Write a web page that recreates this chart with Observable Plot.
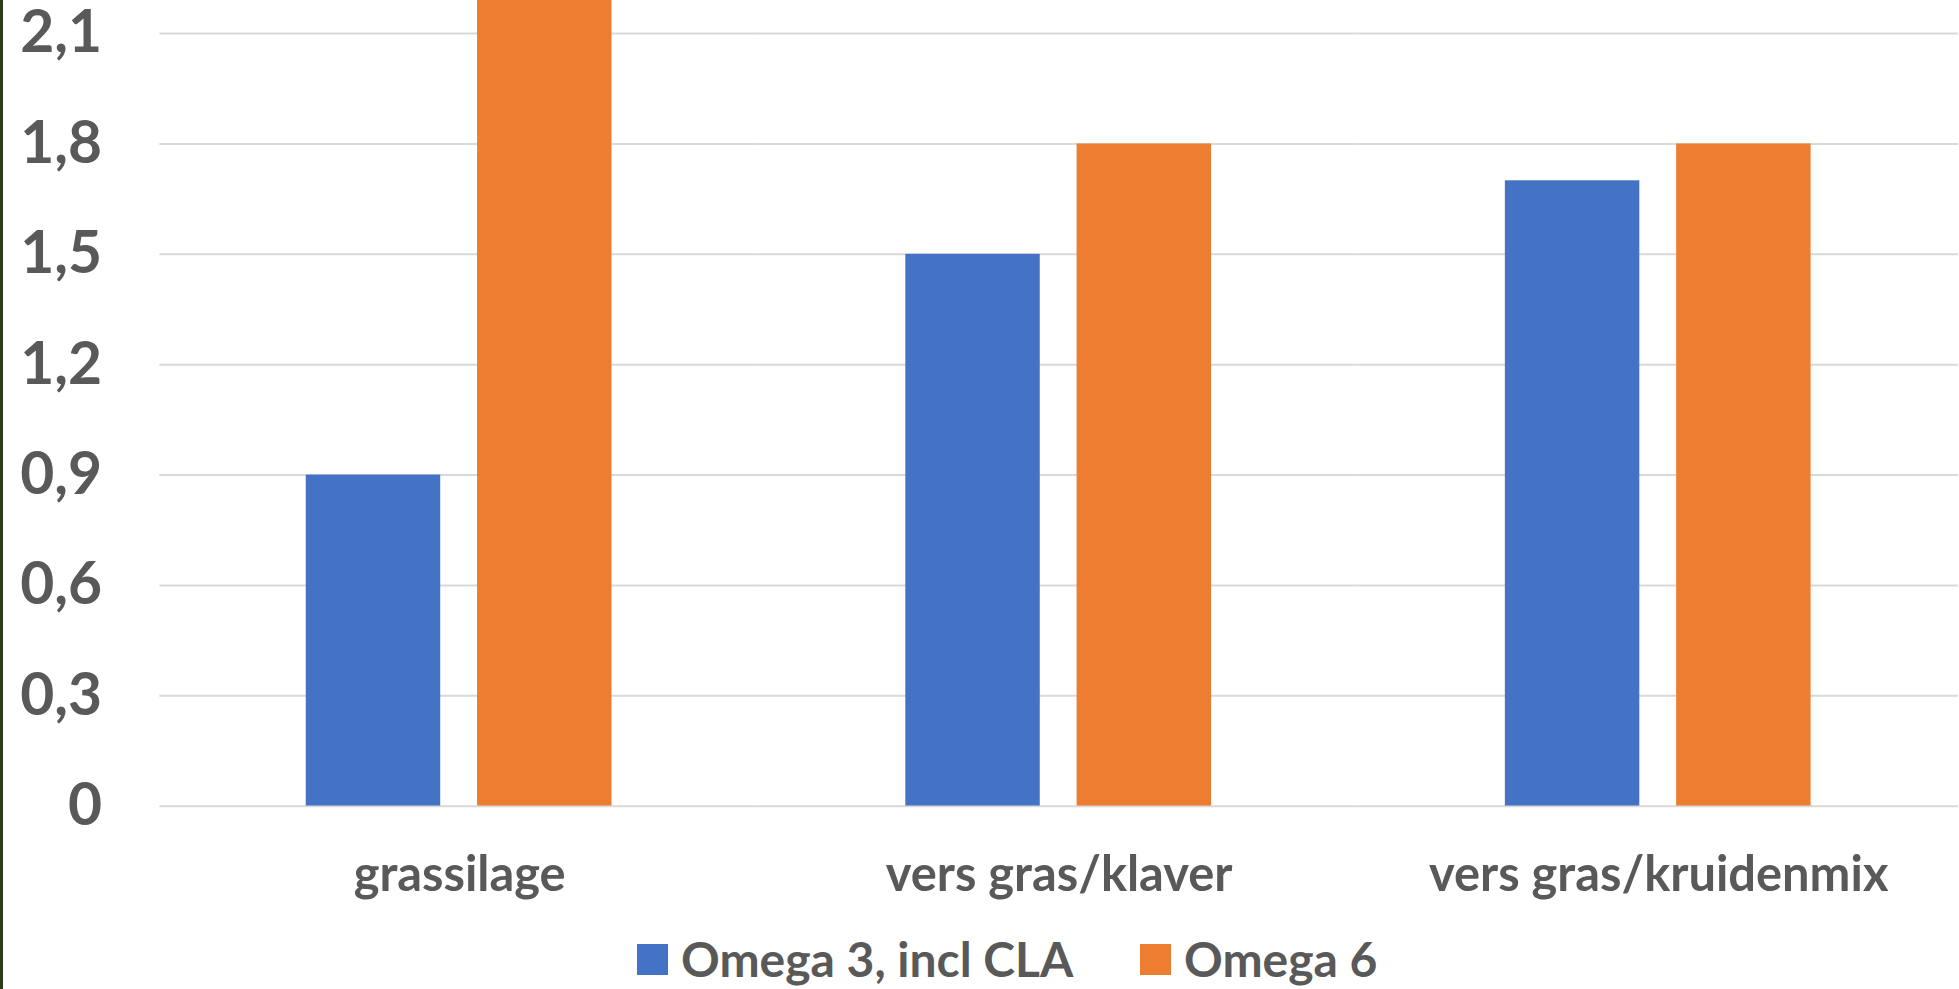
<!DOCTYPE html>
<html><head><meta charset="utf-8">
<script src="https://cdn.jsdelivr.net/npm/d3@7"></script>
<script src="https://cdn.jsdelivr.net/npm/@observablehq/plot@0.6"></script>
<style>
html,body{margin:0;padding:0;background:#fff;overflow:hidden;width:1959px;height:989px}
#wrap{position:relative;width:1959px;height:989px;overflow:hidden}
#chart{position:absolute;left:0;top:0}
.edge{position:absolute;left:0;top:0;width:3px;height:989px;background:#2c3d16}
.leg{position:absolute;top:929px;height:60px;display:flex;align-items:center;font-family:Lato,sans-serif;font-weight:700;font-size:48px;line-height:1;color:#595959;white-space:nowrap}
.sw{width:31px;height:31px;margin-right:13px;flex:none}
</style></head><body>
<div id="wrap"><div id="chart"></div><div id="legend"></div><div class="edge"></div></div>
<script>
const categories = ["grassilage", "vers gras/klaver", "vers gras/kruidenmix"];
const seriesNames = ["Omega 3, incl CLA", "Omega 6"];
const omega3 = [0.9, 1.5, 1.7];
const omega6 = [2.4, 1.8, 1.8];
const yTicks = [0, 0.3, 0.6, 0.9, 1.2, 1.5, 1.8, 2.1];
const colors = ["#4472C4", "#ED7D31"];

const data = categories.flatMap((c, i) => [
  {cat: c, series: seriesNames[0], value: omega3[i]},
  {cat: c, series: seriesNames[1], value: omega6[i]}
]);

const chart = Plot.plot({
  width: 1967,
  height: 925,
  marginLeft: 159,
  marginRight: 0,
  marginTop: 0,
  marginBottom: 116,
  style: {fontFamily: "Lato, sans-serif", fontWeight: 700, color: "#595959", background: "#fff", overflow: "hidden"},
  fx: {domain: categories, padding: 0, label: null},
  x: {domain: seriesNames, paddingInner: 0.215, paddingOuter: 0.85, axis: null},
  y: {domain: [0, 2.19], label: null},
  color: {domain: seriesNames, range: colors},
  marks: [
    Plot.gridY(yTicks, {stroke: "#d9d9d9", strokeOpacity: 1, strokeWidth: 2}),
    Plot.barY(data, {fx: "cat", x: "series", y: "value", fill: "series", clip: true}),
    Plot.axisY({ticks: yTicks, tickSize: 0, tickPadding: 58, fontSize: 59, fontWeight: 700, fill: "#595959",
      tickFormat: d => String(d).replace(".", ","), label: null}),
    Plot.axisFx({anchor: "bottom", tickSize: 0, tickPadding: 50, fontSize: 49, fontWeight: 700, fill: "#595959", label: null})
  ]
});
document.getElementById("chart").appendChild(chart);

const legend = document.getElementById("legend");
const legendLeft = [637, 1140];
seriesNames.forEach((s, i) => {
  const item = document.createElement("div");
  item.className = "leg";
  item.style.left = legendLeft[i] + "px";
  const sw = document.createElement("div");
  sw.className = "sw";
  sw.style.background = colors[i];
  item.appendChild(sw);
  const t = document.createElement("span");
  t.textContent = s;
  item.appendChild(t);
  legend.appendChild(item);
});
</script>
</body></html>
